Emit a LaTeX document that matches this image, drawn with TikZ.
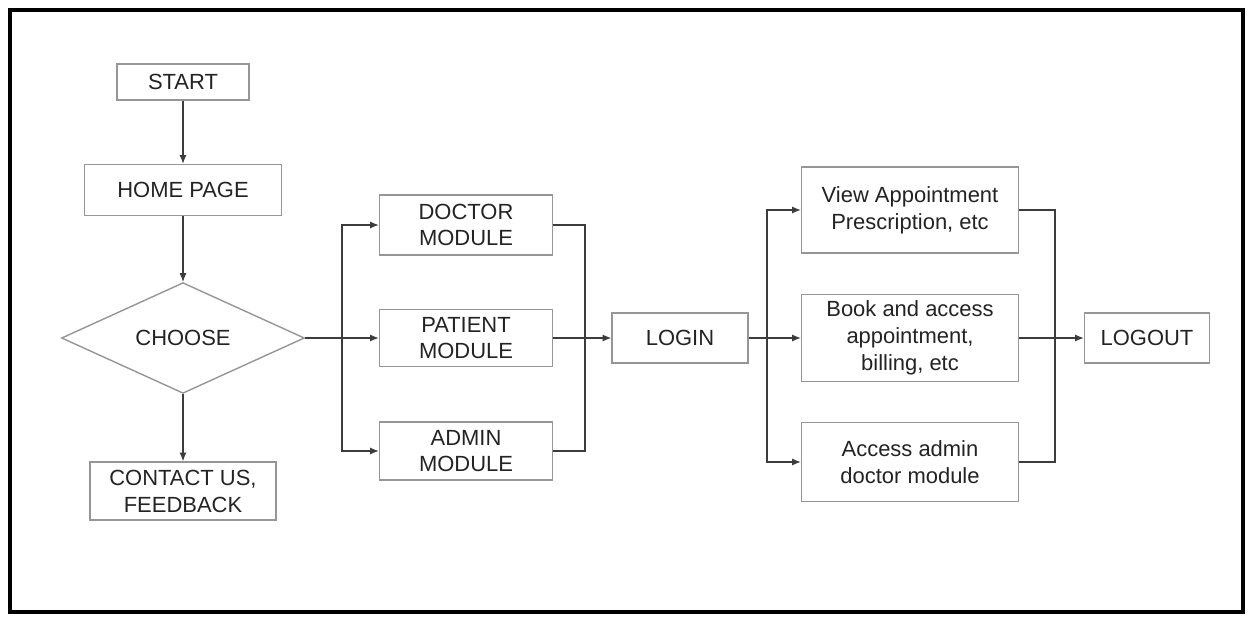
\documentclass[tikz,border=0pt]{standalone}
\usepackage{fontspec}
\setmainfont{Liberation Sans}
\usepackage{xcolor}
\usepackage{tikz}
\usetikzlibrary{shapes.geometric,arrows.meta}
\definecolor{boxgray}{RGB}{150,150,150}
\definecolor{textgray}{RGB}{35,35,35}
\definecolor{linegray}{RGB}{60,60,60}

\begin{document}
\begin{tikzpicture}[x=0.02cm,y=-0.02cm,
    every node/.style={font=\fontsize{12.5}{15.3}\selectfont, text=textgray},
    box/.style={draw=boxgray, line width=0.8pt, align=center, inner sep=0pt},
    choice/.style={diamond, draw=boxgray, line width=0.8pt, inner sep=0pt},
    flow/.style={draw=linegray, line width=0.6pt, -{Latex[length=5pt,width=4pt]}},
    bus/.style={draw=linegray, line width=0.6pt}]
            % Frame
            \useasboundingbox (0,0) rectangle (1250,617);
            \draw[line width=2.3pt] (10,10) rectangle (1243,612);

            % Left column
            \node[box, minimum width=2.64cm, minimum height=0.72cm] (start) at (183,82) {START};
            \node[box, minimum width=3.94cm, minimum height=1.02cm] (home) at (183,190) {HOME PAGE};
            \node[choice, minimum width=4.86cm, minimum height=2.14cm] (choose) at (183,338) {CHOOSE};
            \node[box, minimum width=3.72cm, minimum height=1.16cm] (contact) at (183,491) {CONTACT US,\\FEEDBACK};

            % Modules
            \node[box, minimum width=3.46cm, minimum height=1.2cm] (doctor) at (466,225) {DOCTOR\\MODULE};
            \node[box, minimum width=3.46cm, minimum height=1.14cm] (patient) at (466,338) {PATIENT\\MODULE};
            \node[box, minimum width=3.46cm, minimum height=1.16cm] (admin) at (466,451) {ADMIN\\MODULE};
            \coordinate (lbus) at (342,338);
            \coordinate (rbus) at (585,338);

            % Login
            \node[box, minimum width=2.72cm, minimum height=1.0cm] (login) at (680,338) {LOGIN};
            \coordinate (lbus2) at (767,338);
            \coordinate (rbus2) at (1055,338);

            % Actions
            \node[box, minimum width=4.34cm, minimum height=1.72cm] (view) at (910,210) {View Appointment\\Prescription, etc};
            \node[box, minimum width=4.34cm, minimum height=1.74cm] (book) at (910,338) {Book and access\\appointment,\\billing, etc};
            \node[box, minimum width=4.34cm, minimum height=1.58cm] (access) at (910,462) {Access admin\\doctor module};
            \node[box, minimum width=2.5cm, minimum height=1.0cm] (logout) at (1147,338) {LOGOUT};

            % Arrows
            \draw[flow] (start) -- (home);
            \draw[flow] (home) -- (choose);
            \draw[flow] (choose.south) -- (contact.north);
            \draw[flow] (choose.east) -- (patient.west);
            \draw[flow] (lbus) |- (doctor.west);
            \draw[flow] (lbus) |- (admin.west);
            \draw[bus] (doctor.east) -| (rbus) |- (admin.east);
            \draw[flow] (patient.east) -- (login.west);
            \draw[flow] (login.east) -- (book.west);
            \draw[flow] (lbus2) |- (view.west);
            \draw[flow] (lbus2) |- (access.west);
            \draw[bus] (view.east) -| (rbus2) |- (access.east);
            \draw[flow] (book.east) -- (logout.west);
\end{tikzpicture}
\end{document}
